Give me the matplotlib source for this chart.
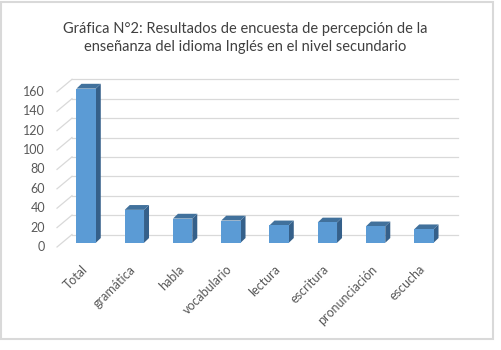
import matplotlib.pyplot as plt
from matplotlib.patches import Polygon, Rectangle

categorias = ["Total", "gramática", "habla", "vocabulario", "lectura",
              "escritura", "pronunciación", "escucha"]
valores = [159, 34, 25, 23, 18, 21, 17, 14]
ticks_y = [0, 20, 40, 60, 80, 100, 120, 140, 160]

titulo = ("Gráfica N°2: Resultados de encuesta de percepción de la\n"
          "enseñanza del idioma Inglés en el nivel secundario")

W, H = 501, 350
fig = plt.figure(figsize=(W / 100, H / 100), dpi=100)
plt.rcParams["font.family"] = ["Lato", "DejaVu Sans"]

# marco exterior gris
fig.patches.append(Rectangle((1 / W, 1 - 339 / H), 492 / W, 337 / H,
                             transform=fig.transFigure, fill=False,
                             edgecolor="#D9D9D9", linewidth=1.5))

fig.text(245 / W, 1 - 38 / H, titulo, ha="center", va="center",
         fontsize=10.5, color="#404040", linespacing=1.4)

# eje frontal: x de 57 a 458 px, y cero en 247 px
px_x = 48.25          # px por categoria
px_y = 0.97           # px por unidad
dxw, dyw = 15 / px_x, 12.5 / px_y    # profundidad de la pared
ymax = 160 + dyw
left, bottom = 57, 247
ax = fig.add_axes([left / W, 1 - bottom / H, (8 + dxw) * px_x / W,
                   ymax * px_y / H])
ax.set_xlim(0, 8 + dxw)
ax.set_ylim(0, ymax)
ax.axis("off")

grid_c = "#D9D9D9"
for v in ticks_y:
    ax.plot([0, dxw], [v, v + dyw], color=grid_c, lw=0.9, clip_on=False,
            zorder=0)
    ax.plot([dxw, 8 + dxw], [v + dyw, v + dyw], color=grid_c, lw=0.9,
            clip_on=False, zorder=0)
    ax.text(-12 / px_x, v, str(v), ha="right", va="center", fontsize=9,
            color="#595959")

# barras 3D simuladas
bw = 0.4
d0x, d0y = dxw / 3, dyw / 3      # desplazamiento cara frontal
ddx, ddy = dxw / 3, dyw / 2.6    # profundidad de la barra
front_c, top_c, side_c = "#5B9BD5", "#41719C", "#35608A"
for i, (cat, val) in enumerate(zip(categorias, valores)):
    x0 = i + 0.5 - bw / 2 + d0x
    y0 = d0y
    x1 = x0 + bw
    y1 = y0 + val
    ax.add_patch(Polygon([(x1, y0), (x1 + ddx, y0 + ddy),
                          (x1 + ddx, y1 + ddy), (x1, y1)],
                         closed=True, facecolor=side_c, edgecolor="none",
                         clip_on=False, zorder=2))
    ax.add_patch(Polygon([(x0, y1), (x0 + ddx, y1 + ddy),
                          (x1 + ddx, y1 + ddy), (x1, y1)],
                         closed=True, facecolor=top_c, edgecolor="none",
                         clip_on=False, zorder=2))
    ax.bar(x0, val, width=bw, bottom=y0, align="edge", color=front_c,
           edgecolor="none", clip_on=False, zorder=3)
    ax.text(i + 0.5, -16 / px_y, cat, rotation=45, ha="right",
            va="top", rotation_mode="anchor", fontsize=9, color="#595959")

fig.savefig("out.png", dpi=100, facecolor="white")
